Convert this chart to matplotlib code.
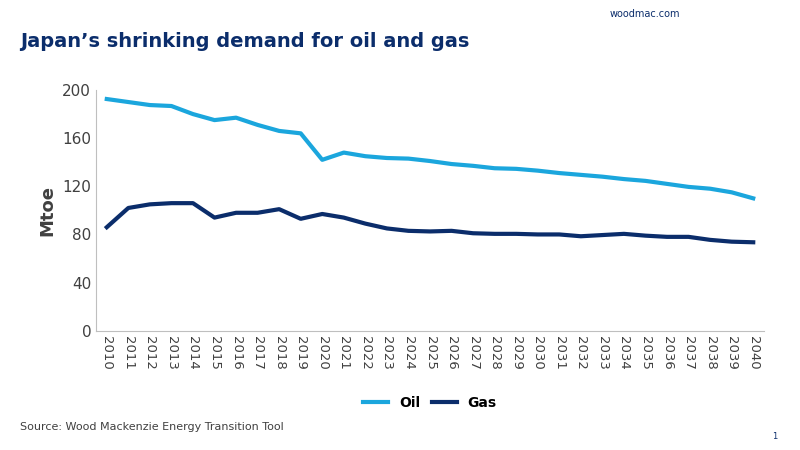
import matplotlib.pyplot as plt

years = list(range(2010, 2041))
oil = [192.5, 190, 187.5, 186.7, 180, 175, 177, 171, 166, 164, 142, 148, 145, 143.5, 143,
       141, 138.5, 137, 135, 134.5, 133, 131, 129.5, 128, 126, 124.5, 122, 119.5, 118, 115, 110]
gas = [86, 102, 105, 106, 106, 94, 98, 98, 101, 93, 97, 94, 89, 85, 83,
       82.5, 83, 81, 80.5, 80.5, 80, 80, 78.5, 79.5, 80.5, 79, 78, 78, 75.5, 74, 73.5]

fig = plt.figure(figsize=(8, 4.5), dpi=100)
ax = fig.add_axes([0.12, 0.265, 0.835, 0.535])
ax.plot(years, oil, color='#1ba6dd', lw=3, label='Oil')
ax.plot(years, gas, color='#0b2d6b', lw=3, label='Gas')
ax.set_ylim(0, 200)
ax.set_yticks(range(0, 201, 40))
ax.set_xlim(2009.5, 2040.5)
ax.set_xticks(years)
ax.set_xticklabels([str(y) for y in years], rotation=270, fontsize=9.5, color='#404040')
ax.tick_params(axis='y', labelsize=11, colors='#404040', length=0)
ax.tick_params(axis='x', length=0)
for s in ['top', 'right']:
    ax.spines[s].set_visible(False)
ax.spines['left'].set_color('#bfbfbf')
ax.spines['bottom'].set_color('#bfbfbf')
ax.set_ylabel('Mtoe', fontsize=13, fontweight='bold', color='#404040')
ax.legend(loc='upper center', bbox_to_anchor=(0.5, -0.22), ncol=2, frameon=False,
          prop={'weight': 'bold', 'size': 10}, handlelength=1.8, columnspacing=0.8)

fig.text(0.025, 0.895, 'Japan’s shrinking demand for oil and gas', fontsize=14,
         fontweight='bold', color='#0b2d6b')
fig.text(0.85, 0.962, 'woodmac.com', fontsize=7, color='#0b2d6b', ha='right')
fig.text(0.025, 0.045, 'Source: Wood Mackenzie Energy Transition Tool', fontsize=8, color='#404040')
fig.text(0.965, 0.025, '1', fontsize=6, color='#0b2d6b')
fig.savefig('out.png')
